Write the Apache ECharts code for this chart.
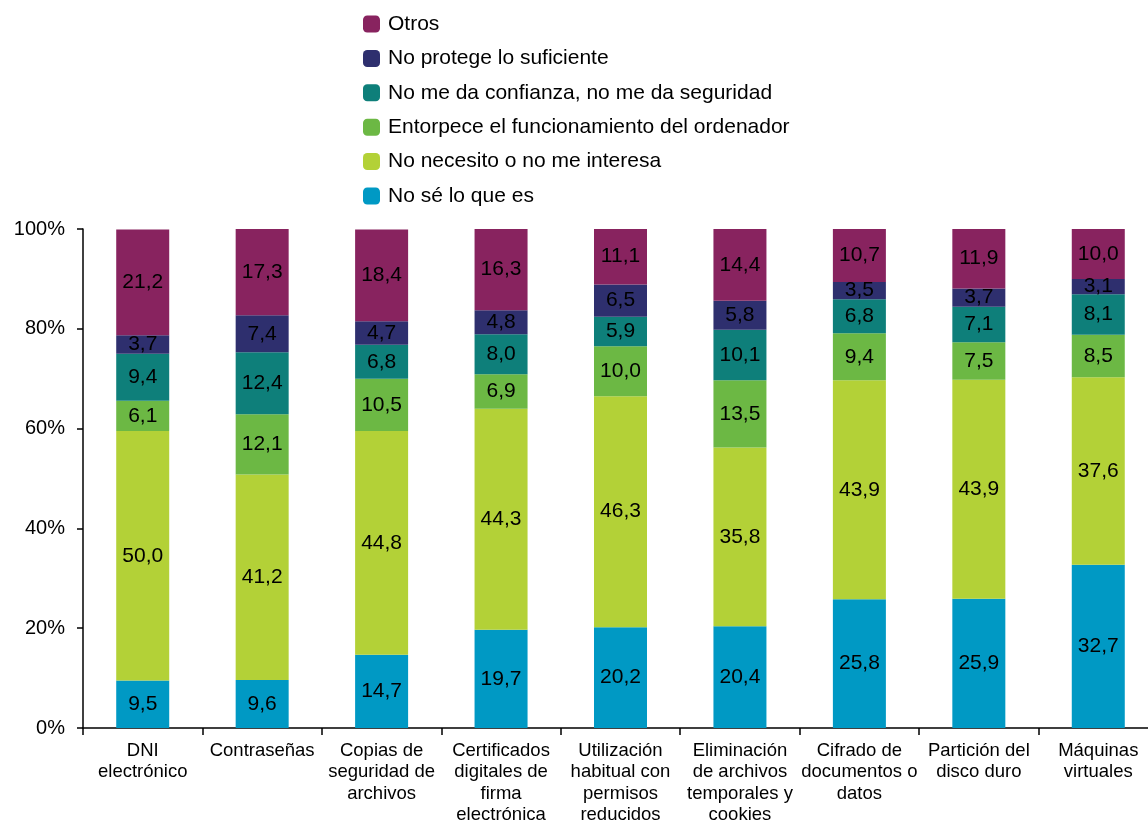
<!DOCTYPE html>
<html>
<head>
<meta charset="utf-8">
<script src="https://cdn.jsdelivr.net/npm/echarts@6/dist/echarts.min.js"></script>
<style>
  html, body { margin: 0; padding: 0; background: #ffffff; }
  #chart { width: 1148px; height: 820px; }
</style>
</head>
<body>
<div id="chart"></div>
<script>
// Motivos para no usar cada medida de seguridad (% de usuarios)
const categories = [
  'DNI\nelectrónico',
  'Contraseñas',
  'Copias de\nseguridad de\narchivos',
  'Certificados\ndigitales de\nfirma\nelectrónica',
  'Utilización\nhabitual con\npermisos\nreducidos',
  'Eliminación\nde archivos\ntemporales y\ncookies',
  'Cifrado de\ndocumentos o\ndatos',
  'Partición del\ndisco duro',
  'Máquinas\nvirtuales'
];

const seriesNames = [
  'No sé lo que es',
  'No necesito o no me interesa',
  'Entorpece el funcionamiento del ordenador',
  'No me da confianza, no me da seguridad',
  'No protege lo suficiente',
  'Otros'
];

const noSe        = [9.5, 9.6, 14.7, 19.7, 20.2, 20.4, 25.8, 25.9, 32.7];
const noNecesito  = [50.0, 41.2, 44.8, 44.3, 46.3, 35.8, 43.9, 43.9, 37.6];
const entorpece   = [6.1, 12.1, 10.5, 6.9, 10.0, 13.5, 9.4, 7.5, 8.5];
const noConfianza = [9.4, 12.4, 6.8, 8.0, 5.9, 10.1, 6.8, 7.1, 8.1];
const noProtege   = [3.7, 7.4, 4.7, 4.8, 6.5, 5.8, 3.5, 3.7, 3.1];
const otros       = [21.2, 17.3, 18.4, 16.3, 11.1, 14.4, 10.7, 11.9, 10.0];

const yTicks = [0, 20, 40, 60, 80, 100];

const values = [noSe, noNecesito, entorpece, noConfianza, noProtege, otros];
const colors = ['#0099c4', '#b3d137', '#6cb844', '#0e7f7a', '#2e2f6e', '#88235f'];

const FONT = '"Liberation Sans", Arial, sans-serif';

const series = seriesNames.map((name, i) => ({
  name: name,
  type: 'bar',
  stack: 'total',
  barWidth: 53,
  data: values[i],
  itemStyle: { color: colors[i] },
  label: {
    show: true,
    position: 'inside',
    color: '#000',
    fontFamily: FONT,
    fontSize: 21,
    formatter: p => p.value.toFixed(1).replace('.', ',')
  }
}));

const chart = echarts.init(document.getElementById('chart'), null, { renderer: 'canvas' });
chart.setOption({
  animation: false,
  backgroundColor: '#ffffff',
  textStyle: { fontFamily: FONT },
  legend: {
    orient: 'vertical',
    left: 363,
    top: 12,
    padding: 0,
    itemWidth: 17,
    itemHeight: 17,
    itemGap: 10.4,
    icon: 'roundRect',
    data: seriesNames.slice().reverse(),
    textStyle: { fontFamily: FONT, fontSize: 21, lineHeight: 24, color: '#000', padding: [0, 0, 0, 3] }
  },
  grid: { left: 83, top: 229, height: 499, width: 1075, containLabel: false, outerBoundsMode: 'none' },
  xAxis: {
    type: 'category',
    data: categories,
    axisLine: { lineStyle: { color: '#000', width: 1.5 } },
    axisTick: { show: true, length: 7, alignWithLabel: false, lineStyle: { color: '#000', width: 1.5 } },
    axisLabel: {
      color: '#000',
      fontFamily: FONT,
      fontSize: 18.5,
      lineHeight: 21.5,
      margin: 12,
      interval: 0
    }
  },
  yAxis: {
    type: 'value',
    min: 0,
    max: 100,
    interval: 20,
    axisLine: { show: true, lineStyle: { color: '#000', width: 1.5 } },
    axisTick: { show: true, length: 6, lineStyle: { color: '#000', width: 1.5 } },
    splitLine: { show: false },
    axisLabel: {
      color: '#000',
      fontFamily: FONT,
      fontSize: 20,
      margin: 18,
      formatter: v => (yTicks.includes(v) ? v + '%' : '')
    }
  },
  series: series
});
</script>
</body>
</html>
